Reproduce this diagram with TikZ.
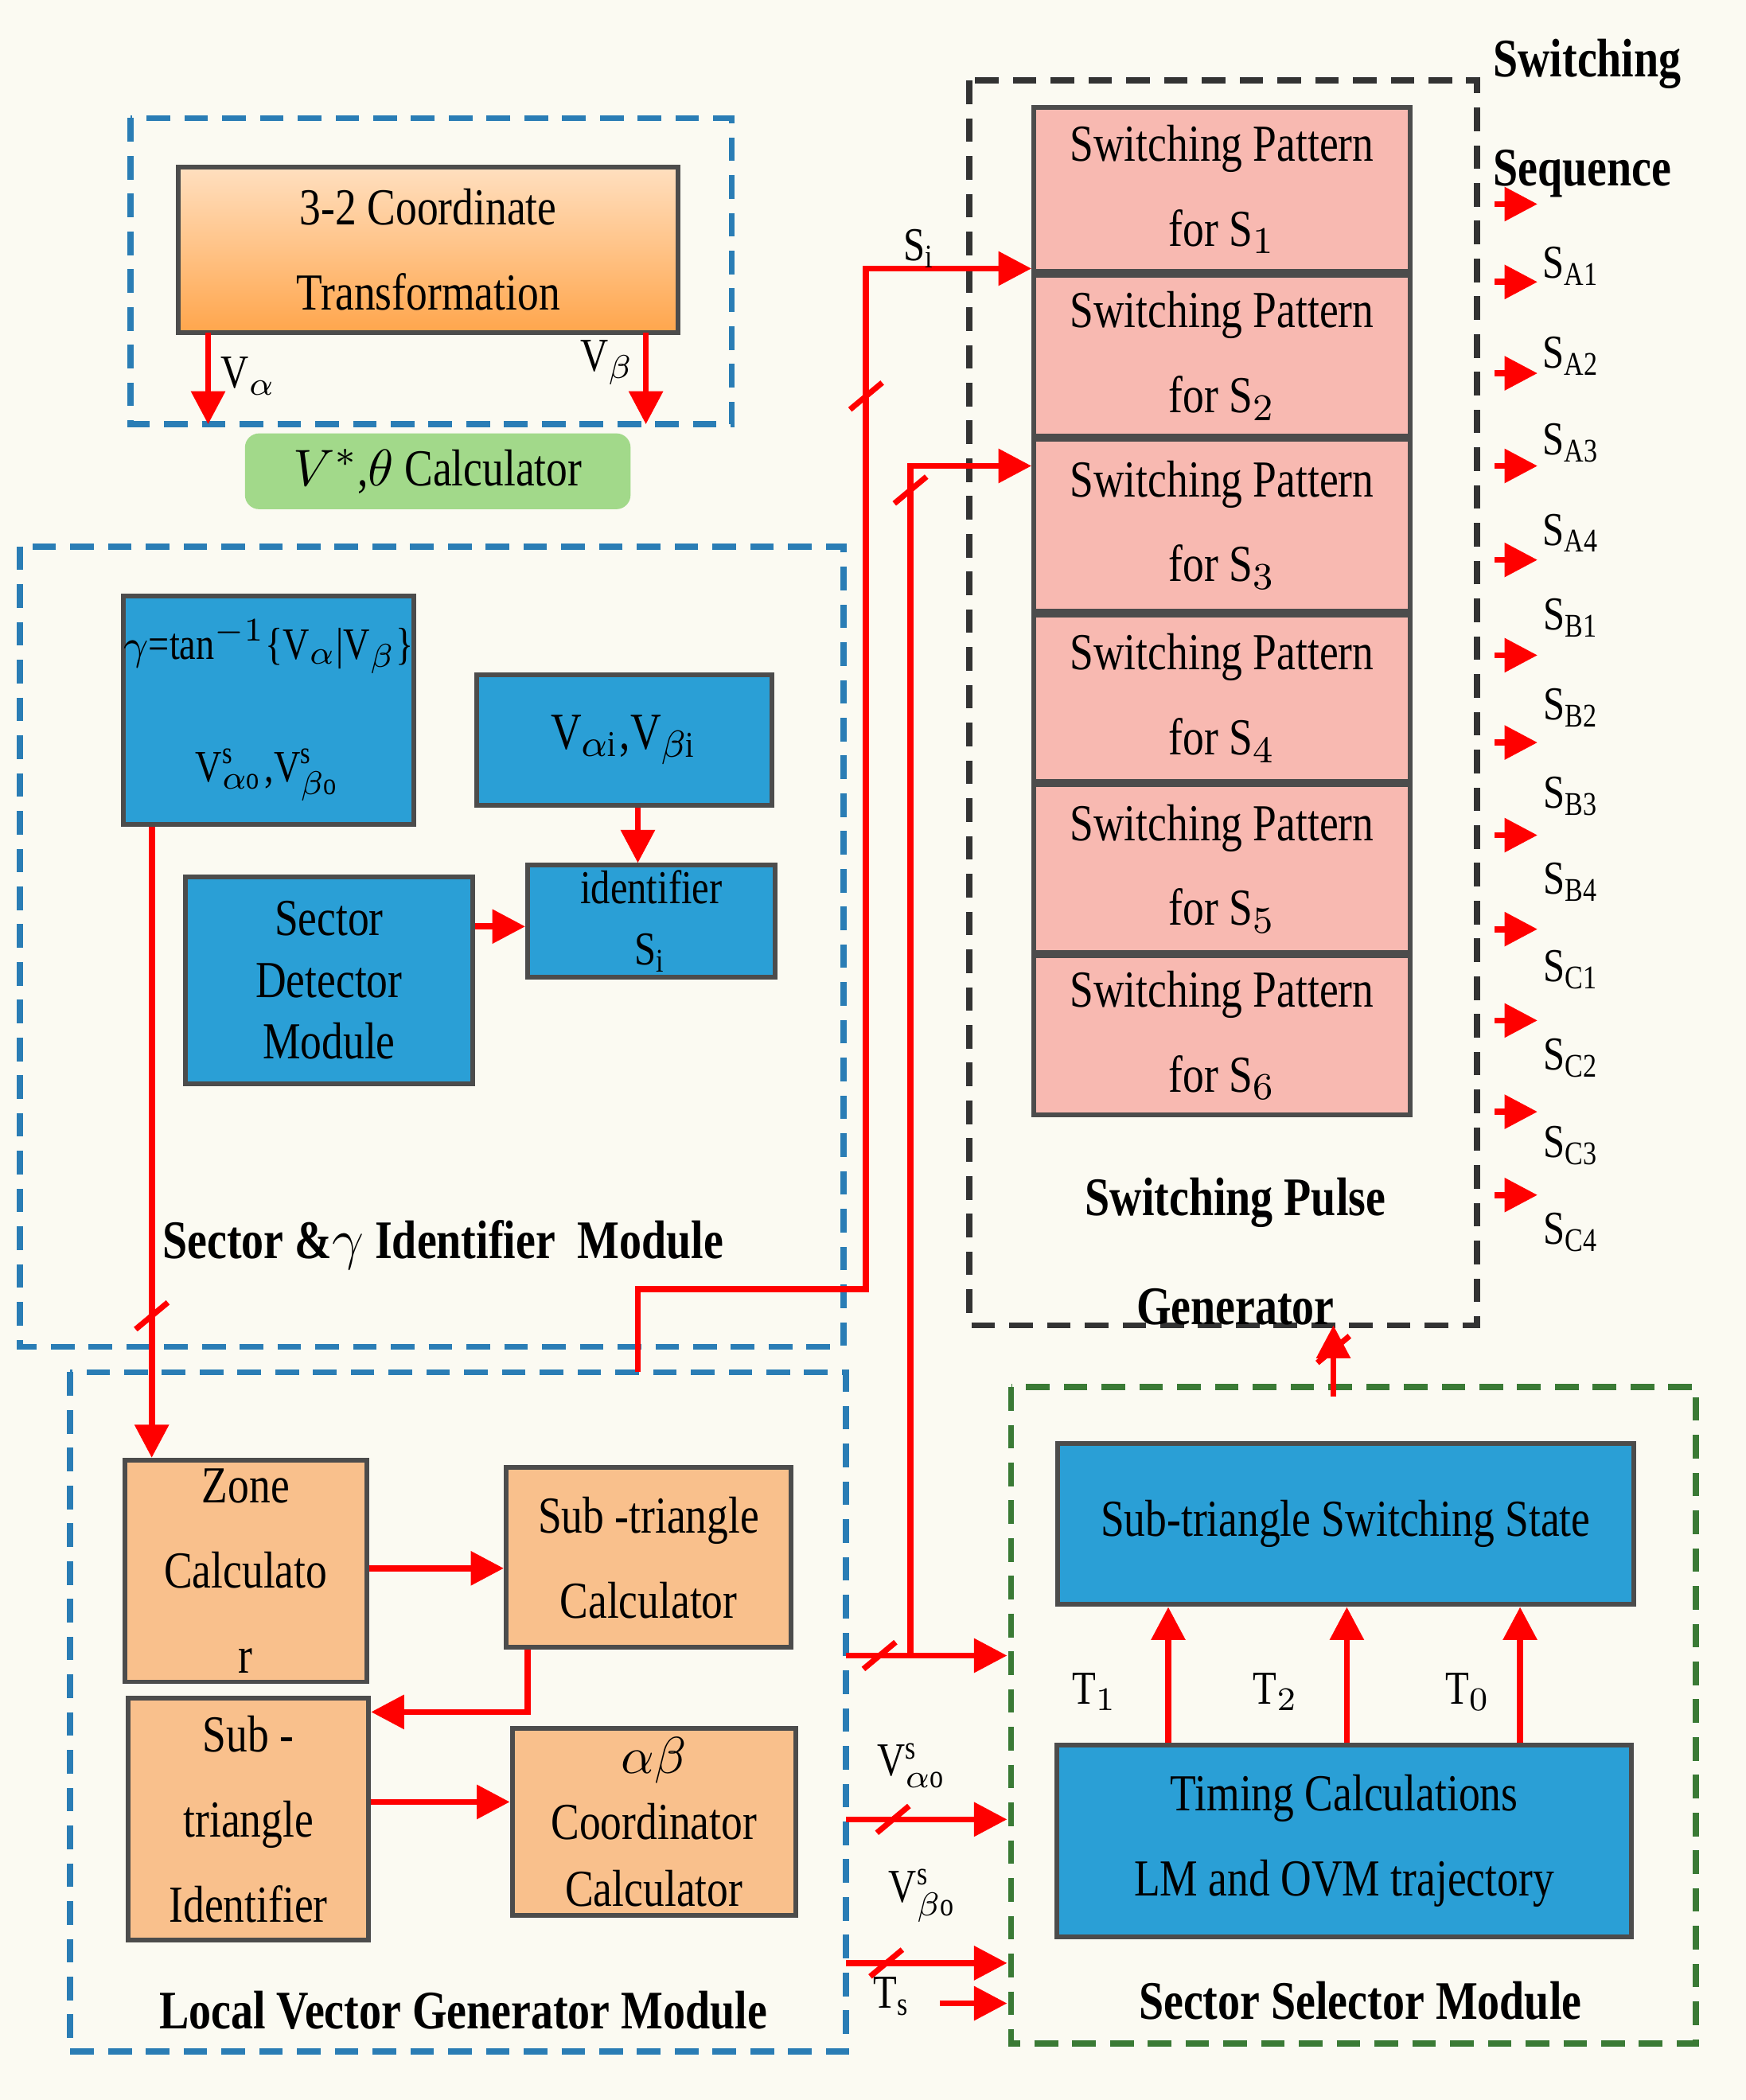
\documentclass[tikz,border=0pt]{standalone}
\usepackage{fontspec}
\setmainfont{Liberation Serif}[FakeStretch=0.82]
\usetikzlibrary{arrows.meta,calc}
\definecolor{bluebox}{HTML}{2A9FD6}
\definecolor{orangebox}{HTML}{F9C08C}
\definecolor{pinkbox}{HTML}{F8B9B1}
\definecolor{greenbox}{HTML}{A2D98A}
\definecolor{dashblue}{HTML}{2A7DB5}
\definecolor{dashgreen}{HTML}{3A7A35}
\definecolor{cream}{HTML}{FBFAF2}
\newcommand{\brk}[1]{\draw[red,line width=1.2pt] ($(#1)+(-12,10)$) -- ($(#1)+(12,-10)$);}
\tikzset{
  blk/.style={draw=black!70,line width=1pt,align=center,inner sep=0pt,
    font=\fontsize{11}{18}\selectfont},
  bbox/.style={blk,fill=bluebox},
  obox/.style={blk,fill=orangebox},
  pbox/.style={blk,fill=pinkbox,minimum width=2.8cm},
  sig/.style={red,line width=1.3pt,-{Triangle[length=7pt,width=7pt]}},
  wire/.style={red,line width=1.3pt},
  grp/.style={line width=1.3pt,dash pattern=on 5pt off 3pt},
  lbl/.style={font=\bfseries\fontsize{11.5}{14}\selectfont},
  sml/.style={font=\fontsize{10}{12}\selectfont}
}
\begin{document}
\begin{tikzpicture}[x=0.01cm,y=-0.01cm]
  \fill[cream] (0,0) rectangle (1300,1564);
  %--------------- coordinate transformation ---------------
  \draw[grp,dashblue] (97,88) rectangle (545,316);
  \node[obox,top color=orange!25,bottom color=orange!70,minimum width=3.72cm,minimum height=1.23cm] (trans) at (319,186) {3-2 Coordinate\\Transformation};
  \draw[sig] (155,248) -- (155,316);
  \draw[sig] (481,248) -- (481,316);
  \node[sml] (va) at (185,280) {V$_{\alpha}$};
  \node[sml] (vb) at (452,270) {V$_{\beta}$};
  \node[fill=greenbox,rounded corners=3pt,minimum width=2.87cm,minimum height=0.43cm,font=\fontsize{11}{13}\selectfont] (calc) at (326,351) {$V^{*}$,$\theta$ Calculator};
  %--------------- sector and gamma identifier ---------------
  \draw[grp,dashblue] (15,407) rectangle (628,1003);
  \node[bbox,minimum width=2.16cm,minimum height=1.7cm,font=\fontsize{9.5}{26}\selectfont] (gam) at (200,529) {$\gamma$=tan$^{-1}${\{}V$_{\alpha}$|V$_{\beta}${\}}\\V$^{\mathrm{s}}_{\alpha\mathrm{o}}$,V$^{\mathrm{s}}_{\beta\mathrm{o}}$};
  \node[bbox,minimum width=2.2cm,minimum height=0.97cm] (vai) at (465,551) {V$_{\alpha\mathrm{i}}$,V$_{\beta\mathrm{i}}$};
  \node[bbox,minimum width=1.84cm,minimum height=0.83cm,font=\fontsize{10}{13}\selectfont] (ident) at (485,686) {identifier\\S$_{\mathrm{i}}$};
  \node[bbox,minimum width=2.14cm,minimum height=1.54cm,font=\fontsize{11}{13}\selectfont] (sect) at (245,730) {Sector\\Detector\\Module};
  \draw[sig] (sect.east |- 0,690) -- (ident.west |- 0,690);
  \draw[sig] (vai.south -| 475,0) -- (ident.north -| 475,0);
  \node[lbl] at (330,927) {Sector \&$\gamma$ Identifier\ \ Module};
  %--------------- local vector generator ---------------
  \draw[grp,dashblue] (52,1022) rectangle (630,1528);
  \node[obox,minimum width=1.8cm,minimum height=1.65cm] (zone) at (183,1170) {Zone\\Calculato\\r};
  \node[obox,minimum width=2.12cm,minimum height=1.34cm] (stc) at (483,1160) {Sub -triangle\\Calculator};
  \node[obox,minimum width=1.79cm,minimum height=1.8cm] (sti) at (185,1355) {Sub -\\triangle\\Identifier};
  \node[obox,minimum width=2.11cm,minimum height=1.39cm,font=\fontsize{11}{14}\selectfont] (abc) at (487,1357) {$\alpha\beta$\\Coordinator\\Calculator};
  \draw[sig] (gam.south -| 113,0) -- (zone.north -| 113,0);
  \brk{113,980}
  \draw[sig] (zone.east |- 0,1168) -- (stc.west |- 0,1168);
  \draw[sig] (stc.south -| 393,0) |- (sti.east |- 0,1275);
  \draw[sig] (sti.east |- 0,1342) -- (abc.west |- 0,1342);
  \node[lbl] at (345,1497) {Local Vector Generator Module};
  %--------------- switching pulse generator ---------------
  \draw[grp,black!80] (722,60) rectangle (1100,987);
  \foreach \i/\y/\h in {1/141/1.22,2/265/1.2,3/391/1.28,4/520/1.24,5/647/1.25,6/771/1.18}
    \node[pbox,minimum height=\h cm] (sp\i) at (910,\y) {Switching Pattern\\for S$_{\i}$};
  \node[lbl,align=center,font=\bfseries\fontsize{11.5}{23}\selectfont] at (920,932) {Switching Pulse\\Generator};
  \node[lbl,align=left,font=\bfseries\fontsize{11.5}{23}\selectfont] at (1182,88) {Switching\\Sequence};
  \foreach \y [count=\k] in {152,210,278,347,417,488,553,622,692,760,828,890} {
    \coordinate (o\k) at (1113,\y);
    \draw[sig] (o\k) -- ++(32,0);
  }
  \foreach \s/\y in {A1/198,A2/265,A3/330,A4/397,B1/460,B2/527,B3/593,B4/657,C1/722,C2/788,C3/853,C4/918}
    \node[sml] at (1170,\y) {S\textsubscript{\s}};
  %--------------- sector selector ---------------
  \draw[grp,dashgreen] (753,1033) rectangle (1263,1522);
  \node[bbox,minimum width=4.29cm,minimum height=1.2cm] (sss) at (1002,1135) {Sub-triangle Switching State};
  \node[bbox,minimum width=4.28cm,minimum height=1.43cm] (tim) at (1001,1371) {Timing Calculations\\LM and OVM trajectory};
  \foreach \x/\t/\lx in {870/1/815,1003/2/950,1132/0/1093} {
    \draw[sig] (tim.north -| \x,0) -- (sss.south -| \x,0);
    \node[sml] at (\lx,1260) {T$_{\t}$};
  }
  \node[lbl] at (1013,1490) {Sector Selector Module};
  \draw[sig] (993,1040) -- (993,987);
  \brk{993,1005}
  %--------------- signals between modules ---------------
  \coordinate (lvtop) at (475,1022);
  \draw[sig] (lvtop) |- (645,960) |- (sp1.west |- 0,200);
  \node[sml] at (685,185) {S$_{\mathrm{i}}$};
  \brk{645,295}
  \coordinate (z0) at (630,1233);
  \draw[sig] (z0) -- (750,1233);
  \draw[sig] (678,1233) |- (sp3.west |- 0,347);
  \brk{678,365}
  \brk{655,1233}
  \draw[sig] (630,1355) -- (750,1355);
  \brk{665,1355}
  \node[sml] at (680,1315) {V$^{\mathrm{s}}_{\alpha\mathrm{o}}$};
  \draw[sig] (630,1462) -- (750,1462);
  \brk{660,1462}
  \node[sml] at (688,1412) {V$^{\mathrm{s}}_{\beta\mathrm{o}}$};
  \node[sml] at (665,1487) {T$_{\mathrm{s}}$};
  \draw[sig] (700,1492) -- (750,1492);
\end{tikzpicture}
\end{document}
